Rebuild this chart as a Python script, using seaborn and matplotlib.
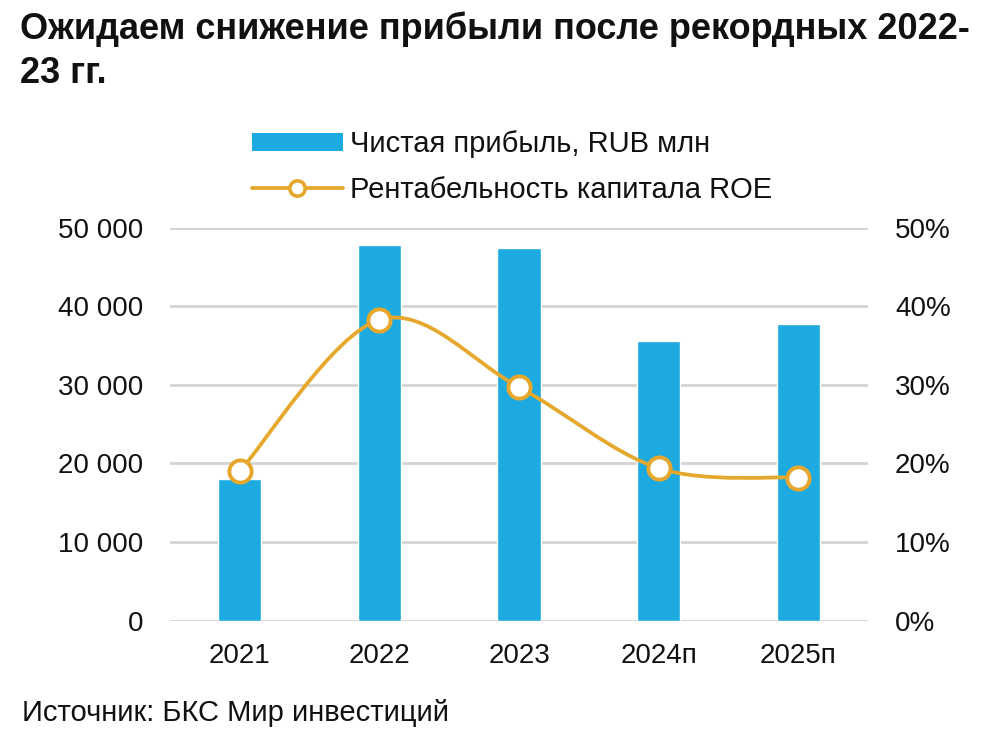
import matplotlib.pyplot as plt
import pandas as pd
import seaborn as sns
from matplotlib import font_manager
from matplotlib.lines import Line2D
from matplotlib.patches import Patch, PathPatch
from matplotlib.path import Path
from matplotlib.ticker import FuncFormatter

years = ['2021', '2022', '2023', '2024п', '2025п']
net_profit = [18000, 47800, 47400, 35600, 37800]   # RUB mln
roe = [19.0, 38.3, 29.7, 19.4, 18.2]               # %

BAR_COLOR = '#1DAAE0'
LINE_COLOR = '#E6A82C'
GRID_COLOR = '#D4D4D4'
TEXT = '#111111'

sns.set_style('white')
plt.rcParams['font.family'] = ['Liberation Sans', 'DejaVu Sans']
plt.rcParams['text.color'] = TEXT
plt.rcParams['xtick.color'] = TEXT
plt.rcParams['ytick.color'] = TEXT

installed = {f.name for f in font_manager.fontManager.ttflist}
narrow = 'Liberation Sans Narrow' in installed

df = pd.DataFrame({'year': years, 'profit': net_profit, 'roe': roe})

fig = plt.figure(figsize=(10, 7.37), dpi=100)
ax = fig.add_axes([0.170, 0.158, 0.698, 0.533])

sns.barplot(data=df, x='year', y='profit', color=BAR_COLOR, saturation=1,
            width=0.31, ax=ax, zorder=2)
ax.set_xlim(-0.5, len(years) - 0.5)
ax.set_ylim(0, 50000)
ax.set_yticks(range(0, 50001, 10000))
ax.yaxis.set_major_formatter(FuncFormatter(lambda v, _: f'{int(v):,}'.replace(',', ' ')))
ax.grid(axis='y', color=GRID_COLOR, linewidth=2, zorder=0)
ax.grid(axis='x', visible=False)
for s in ax.spines.values():
    s.set_visible(False)
ax.set_xlabel('')
ax.set_ylabel('')
ax.tick_params(axis='y', length=0, pad=19.5, labelsize=20)
ax.tick_params(axis='x', length=0, pad=16.5, labelsize=20)
ax.set_axisbelow(True)

# ROE on secondary axis, drawn as a smoothed (Catmull-Rom style) line
ax2 = ax.twinx()
ax2.set_ylim(0, 50)
ax2.set_yticks(range(0, 51, 10))
ax2.yaxis.set_major_formatter(FuncFormatter(lambda v, _: f'{int(v)}%'))
ax2.tick_params(axis='y', length=0, pad=19.5, labelsize=20)
for s in ax2.spines.values():
    s.set_visible(False)
ax2.grid(False)

pts = list(zip(range(len(years)), roe))
verts = [pts[0]]
codes = [Path.MOVETO]
for i in range(len(pts) - 1):
    p0 = pts[max(i - 1, 0)]
    p1 = pts[i]
    p2 = pts[i + 1]
    p3 = pts[min(i + 2, len(pts) - 1)]
    c1 = (p1[0] + (p2[0] - p0[0]) / 6, p1[1] + (p2[1] - p0[1]) / 6)
    c2 = (p2[0] - (p3[0] - p1[0]) / 6, p2[1] - (p3[1] - p1[1]) / 6)
    verts += [c1, c2, p2]
    codes += [Path.CURVE4] * 3
ax2.add_patch(PathPatch(Path(verts, codes), facecolor='none', edgecolor=LINE_COLOR,
                        linewidth=2.7, zorder=3, capstyle='round'))
ax2.plot(range(len(years)), roe, linestyle='none', marker='o', markersize=16,
         markerfacecolor='white', markeredgecolor=LINE_COLOR, markeredgewidth=2.8, zorder=4)

handles = [
    Patch(facecolor=BAR_COLOR, edgecolor='none'),
    Line2D([], [], color=LINE_COLOR, linewidth=2.7, marker='o', markersize=11,
           markerfacecolor='white', markeredgecolor=LINE_COLOR, markeredgewidth=2.6),
]
fig.legend(handles, ['Чистая прибыль, RUB млн', 'Рентабельность капитала ROE'],
           loc='upper left', bbox_to_anchor=(0.226, 0.859), frameon=False,
           fontsize=21, handlelength=3.1, handleheight=0.6, handletextpad=0.25,
           labelspacing=0.6)

if narrow:
    fig.text(0.020, 0.992, 'Ожидаем снижение прибыли после рекордных 2022-\n23 гг.',
             family=['Liberation Sans Narrow', 'Liberation Sans'],
             fontsize=30, fontweight='bold', ha='left', va='top', linespacing=1.35)
else:
    fig.text(0.020, 0.985, 'Ожидаем снижение прибыли после рекордных 2022-\n23 гг.',
             fontsize=26, fontweight='bold', ha='left', va='top', linespacing=1.35)
fig.text(0.022, 0.032, 'Источник: БКС Мир инвестиций', fontsize=21, ha='left', va='center')

fig.savefig('out.png', dpi=100)
